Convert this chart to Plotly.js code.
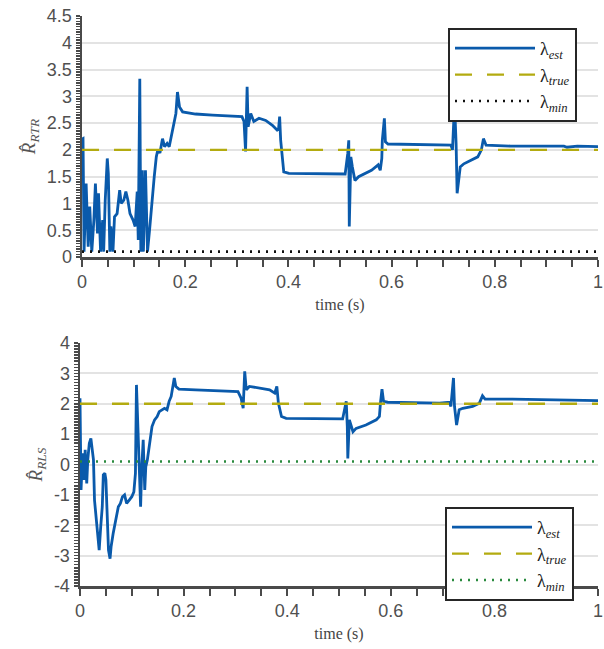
<!DOCTYPE html>
<html>
<head>
<meta charset="utf-8">
<script src="https://cdn.plot.ly/plotly-3.0.1.min.js"></script>
<style>html,body{margin:0;padding:0;background:#fff;}#chart{width:604px;height:649px;}</style>
</head>
<body>
<div id="chart"></div>
<script>
// ---- data ----
const timeTop = [0,0.002,0.004,0.008,0.012,0.015,0.019,0.023,0.026,0.03,0.032,0.036,0.04,0.042,0.045,0.049,0.051,0.054,0.056,0.06,0.063,0.068,0.073,0.076,0.081,0.085,0.089,0.093,0.099,0.103,0.107,0.109,0.112,0.114,0.117,0.119,0.123,0.127,0.131,0.135,0.14,0.144,0.147,0.151,0.156,0.16,0.165,0.169,0.173,0.178,0.182,0.185,0.189,0.195,0.22,0.253,0.31,0.314,0.317,0.32,0.322,0.327,0.333,0.343,0.356,0.369,0.378,0.381,0.383,0.385,0.388,0.391,0.401,0.51,0.515,0.517,0.518,0.521,0.524,0.529,0.536,0.549,0.561,0.574,0.578,0.581,0.582,0.586,0.588,0.593,0.69,0.715,0.718,0.722,0.725,0.727,0.73,0.733,0.74,0.754,0.767,0.774,0.778,0.783,0.831,0.934,0.94,0.96,1.0];
const rtrEst = [2.2,2.21,0.1,1.37,0.19,0.94,0.1,0.69,1.37,0.44,1.19,0.1,0.69,0.1,1.06,1.84,1.56,0.1,0.57,0.1,0.75,0.81,1.25,1.0,1.06,1.22,1.06,0.81,0.69,0.57,1.22,0.32,3.33,0.1,1.62,0.1,1.62,0.1,0.51,1.0,1.5,1.87,2.0,1.94,2.21,2.06,2.12,2.06,2.25,2.43,2.68,3.08,2.8,2.71,2.67,2.65,2.62,2.53,1.97,3.18,2.43,2.68,2.53,2.59,2.55,2.46,2.37,2.4,2.62,2.18,1.81,1.59,1.56,1.55,1.93,2.18,0.57,1.87,1.68,1.43,1.5,1.56,1.62,1.72,1.62,1.84,2.18,2.59,2.15,2.11,2.09,2.09,2.0,2.87,2.12,1.19,1.43,1.68,1.74,1.81,1.87,2.0,2.21,2.09,2.07,2.07,2.05,2.07,2.06];

const timeBot = [0,0.001,0.002,0.005,0.008,0.01,0.013,0.015,0.018,0.021,0.023,0.026,0.028,0.032,0.035,0.037,0.04,0.043,0.045,0.048,0.05,0.053,0.055,0.058,0.06,0.064,0.069,0.074,0.078,0.082,0.086,0.09,0.095,0.1,0.104,0.107,0.109,0.112,0.114,0.117,0.119,0.122,0.125,0.127,0.13,0.134,0.139,0.144,0.149,0.153,0.158,0.163,0.168,0.172,0.176,0.18,0.182,0.185,0.191,0.223,0.305,0.311,0.315,0.318,0.321,0.327,0.347,0.366,0.376,0.38,0.383,0.389,0.398,0.507,0.514,0.516,0.517,0.52,0.523,0.527,0.533,0.552,0.572,0.578,0.58,0.583,0.586,0.594,0.694,0.713,0.716,0.721,0.723,0.727,0.732,0.739,0.758,0.771,0.777,0.782,0.835,0.925,1.0];
const rlsEst = [2.18,0.7,-0.84,0.37,-0.51,0.48,-0.62,0.15,0.7,0.86,0.59,0.15,-1.17,-1.83,-2.38,-2.82,-2.05,-1.39,-0.34,-0.29,-0.51,-2.27,-2.82,-3.1,-2.71,-2.27,-1.83,-1.39,-1.28,-1.06,-1.0,-1.28,-1.17,-1.06,-0.9,-0.29,2.62,0.81,0.48,-1.39,-0.18,0.81,-0.84,-0.07,0.15,0.7,1.25,1.47,1.58,1.74,1.8,1.85,1.8,2.08,2.24,2.57,2.85,2.57,2.48,2.46,2.4,2.18,1.85,3.07,2.46,2.57,2.51,2.46,2.35,2.57,2.02,1.58,1.52,1.5,2.08,1.25,0.2,1.47,1.3,1.08,1.19,1.3,1.47,1.58,2.02,2.48,2.08,2.05,2.02,2.05,1.91,2.85,1.91,1.3,1.8,1.85,1.91,2.02,2.26,2.15,2.15,2.13,2.1];

const lambdaTrue = 2;
const lambdaMin = 0.1;
const timeRange = [0, 1];
const xTickVals = [0, 0.2, 0.4, 0.6, 0.8, 1];
const xTickText = ['0', '0.2', '0.4', '0.6', '0.8', '1'];
const yTopTicks = [0,0.5,1,1.5,2,2.5,3,3.5,4,4.5];
const yTopText = ['0','0.5','1','1.5','2','2.5','3','3.5','4','4.5'];
const yBotTicks = [-4,-3,-2,-1,0,1,2,3,4];
const yBotText = ['-4','-3','-2','-1','0','1','2','3','4'];

const nameEst = 'λ<sub><i>est</i></sub>';
const nameTrue = 'λ<sub><i>true</i></sub>';
const nameMin = 'λ<sub><i>min</i></sub>';

const BLUE = '#0a5aab', OLIVE = '#b3ab10', BLACK = '#111111', GREEN = '#2a8a3e';

const traces = [
  {x: timeTop, y: rtrEst, xaxis:'x', yaxis:'y', mode:'lines', name:nameEst, legend:'legend',
   line:{color:BLUE, width:2.8}},
  {x: timeRange, y: [lambdaTrue, lambdaTrue], xaxis:'x', yaxis:'y', mode:'lines', name:nameTrue, legend:'legend',
   line:{color:OLIVE, width:2.4, dash:'17px,15px'}},
  {x: timeRange, y: [lambdaMin, lambdaMin], xaxis:'x', yaxis:'y', mode:'lines', name:nameMin, legend:'legend',
   line:{color:BLACK, width:2.6, dash:'2px,6px'}},
  {x: timeBot, y: rlsEst, xaxis:'x2', yaxis:'y2', mode:'lines', name:nameEst, legend:'legend2',
   line:{color:BLUE, width:2.8}},
  {x: timeRange, y: [lambdaTrue, lambdaTrue], xaxis:'x2', yaxis:'y2', mode:'lines', name:nameTrue, legend:'legend2',
   line:{color:OLIVE, width:2.4, dash:'17px,15px'}},
  {x: timeRange, y: [lambdaMin, lambdaMin], xaxis:'x2', yaxis:'y2', mode:'lines', name:nameMin, legend:'legend2',
   line:{color:GREEN, width:2.6, dash:'2px,6px'}}
];

const AX = '#4a4a4a';
const SERIF = 'Liberation Serif, DejaVu Serif, serif';
const tickFont = {family:'Liberation Sans, Arial, sans-serif', size:18, color:'#505050'};
const titleFont = {family:SERIF, size:16, color:'#444'};

function xAxis(domain, anchor){
  return {domain:domain, anchor:anchor, range:[0,1], showgrid:false, zeroline:false,
    showline:true, linecolor:AX, linewidth:2.5, ticks:'outside', ticklen:7, tickwidth:2, tickcolor:AX,
    tickvals:xTickVals, ticktext:xTickText, tickfont:tickFont, ticklabeloverflow:'allow',
    minor:{dtick:0.05, ticks:'outside', ticklen:7, tickwidth:2, tickcolor:AX, showgrid:false},
    title:{text:'time (s)', font:titleFont, standoff:8}, fixedrange:true};
}
function yAxis(domain, anchor, range, tv, tt, minorStep, title){
  return {domain:domain, anchor:anchor, range:range, showgrid:true, gridcolor:'#e3e3e3', gridwidth:2,
    zeroline:false, showline:true, linecolor:AX, linewidth:2.5, ticks:'outside', ticklen:4, tickwidth:1.5, tickcolor:AX,
    tickvals:tv, ticktext:tt, tickfont:tickFont, ticklabeloverflow:'allow',
    minor:{dtick:minorStep, ticks:'outside', ticklen:4, tickwidth:1.5, tickcolor:AX, showgrid:false},
    title:{text:title, font:{family:SERIF, size:19, color:'#555'}, standoff:6}, fixedrange:true};
}

const legendCommon = {bgcolor:'#ffffff', bordercolor:'#262626', borderwidth:2,
  font:{family:SERIF, size:18, color:'#222'},
  itemwidth:80, xanchor:'left', yanchor:'top', tracegroupgap:0};

const layout = {
  width:604, height:649, margin:{l:0, r:0, t:0, b:0},
  paper_bgcolor:'#ffffff', plot_bgcolor:'#ffffff', showlegend:true,
  xaxis: xAxis([82/604, 598/604], 'y'),
  yaxis: yAxis([1-257/649, 1-16/649], 'x', [0,4.5], yTopTicks, yTopText, 0.05, '<i>R̂</i><sub><i>RTR</i></sub>'),
  xaxis2: xAxis([80/604, 598/604], 'y2'),
  yaxis2: yAxis([1-586/649, 1-343/649], 'x2', [-4,4], yBotTicks, yBotText, 0.1, '<i>R̂</i><sub><i>RLS</i></sub>'),
  legend: Object.assign({x:448/604, y:1-28/649}, legendCommon),
  legend2: Object.assign({x:445/604, y:1-507/649}, legendCommon)
};

Plotly.newPlot('chart', traces, layout, {displayModeBar:false, staticPlot:true});
</script>
</body>
</html>
